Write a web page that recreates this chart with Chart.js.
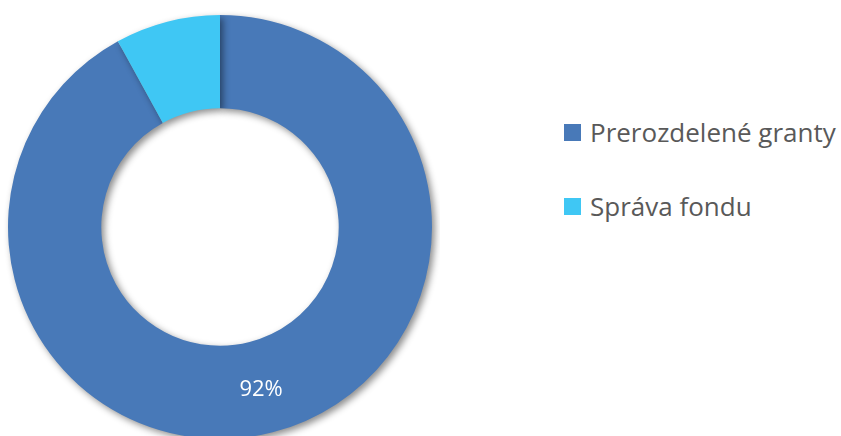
<!DOCTYPE html>
<html>
<head>
<meta charset="utf-8">
<script src="https://cdn.jsdelivr.net/npm/chart.js@4"></script>
<style>
  html, body { margin: 0; padding: 0; background: #fff; width: 841px; height: 436px; overflow: hidden; }
  #wrap { position: absolute; left: 0; top: 0; width: 440px; height: 454px; }
  #legend { position: absolute; left: 564px; top: 110px; font-family: "Open Sans", sans-serif; font-size: 26px; color: #595959; }
  #legend .item { display: flex; align-items: center; height: 44px; margin-bottom: 30px; white-space: nowrap; }
  #legend .box { width: 17px; height: 17px; margin-right: 9px; }
</style>
</head>
<body>
<div id="wrap"><canvas id="c" width="440" height="454"></canvas></div>
<div id="legend"></div>
<script>
const labels = ['Prerozdelené granty', 'Správa fondu'];
const values = [92, 8];
const colors = ['#4879B8', '#3FC7F4'];

// drop shadow under the ring
const shadow = {
    id: 'shadow',
    beforeDatasetsDraw(chart) {
        const ctx = chart.ctx;
        ctx.save();
        ctx.shadowColor = 'rgba(0,0,0,0.45)';
        ctx.shadowBlur = 7;
        ctx.shadowOffsetX = 3;
        ctx.shadowOffsetY = 3;
    },
    afterDatasetsDraw(chart) {
        chart.ctx.restore();
    }
};

// percentage label on the big slice
const sliceLabels = {
    id: 'sliceLabels',
    afterDraw(chart) {
        const ctx = chart.ctx;
        const meta = chart.getDatasetMeta(0);
        const total = values.reduce((a, b) => a + b, 0);
        ctx.save();
        ctx.fillStyle = '#fff';
        ctx.font = '22px "Open Sans", sans-serif';
        ctx.textAlign = 'center';
        ctx.textBaseline = 'middle';
        meta.data.forEach((arc, i) => {
            const pct = Math.round(values[i] / total * 100);
            if (pct < 10) return;
            const p = arc.tooltipPosition();
            ctx.fillText(pct + '%', p.x, p.y + 3);
        });
        ctx.restore();
    }
};

const chart = new Chart(document.getElementById('c').getContext('2d'), {
    type: 'doughnut',
    data: {
        labels: labels,
        datasets: [{
            data: values,
            backgroundColor: colors,
            borderWidth: 0
        }]
    },
    options: {
        responsive: false,
        animation: false,
        cutout: '56%',
        layout: { padding: 8 },
        plugins: {
            legend: { display: false },
            tooltip: { enabled: false }
        },
        events: []
    },
    plugins: [shadow, sliceLabels]
});

const leg = document.getElementById('legend');
chart.options.plugins.legend.labels.generateLabels(chart).forEach(item => {
    const row = document.createElement('div');
    row.className = 'item';
    const box = document.createElement('span');
    box.className = 'box';
    box.style.background = item.fillStyle;
    const txt = document.createElement('span');
    txt.textContent = item.text;
    row.append(box, txt);
    leg.append(row);
});
</script>
</body>
</html>
